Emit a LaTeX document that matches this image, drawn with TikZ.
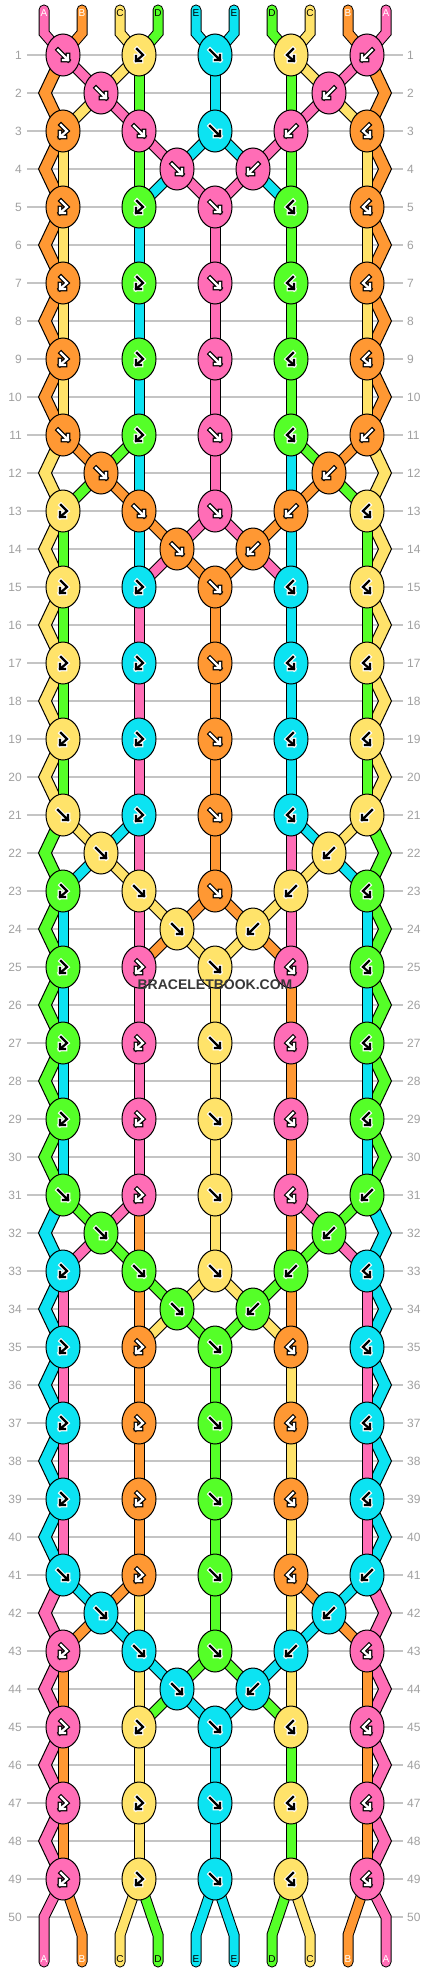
\documentclass[tikz,border=0pt]{standalone}
\usepackage{fontspec}
\setmainfont{Liberation Sans}
\usetikzlibrary{shapes.geometric}

\definecolor{cA}{HTML}{FF6DB6}
\definecolor{cB}{HTML}{FF9833}
\definecolor{cC}{HTML}{FFE36A}
\definecolor{cD}{HTML}{55FF28}
\definecolor{cE}{HTML}{0CE3F2}
\definecolor{gridgray}{HTML}{C4C4C4}
\definecolor{numgray}{HTML}{A0A0A0}
% 箭头的描边色和填充色
\colorlet{rimcA}{black}\colorlet{corecA}{white}
\colorlet{rimcB}{black}\colorlet{corecB}{white}
\colorlet{rimcC}{white}\colorlet{corecC}{black}
\colorlet{rimcD}{white}\colorlet{corecD}{black}
\colorlet{rimcE}{white}\colorlet{corecE}{black}

\pgfdeclarelayer{grid}
\pgfdeclarelayer{threads}
\pgfsetlayers{grid,threads,main}

\tikzset{
  knot/.style={ellipse, draw=black, line width=1pt, minimum width=34pt, minimum height=42pt, inner sep=0pt},
  rim/.style={draw=black, line width=11pt},
  core/.style={line width=9pt},
  arrowline/.style={line cap=rect, line join=miter},
  rowline/.style={draw=gridgray, line width=1.2pt},
  rownum/.style={text=numgray, font=\fontsize{12}{12}\selectfont, inner sep=0pt},
  endlabel/.style={font=\fontsize{10}{10}\selectfont, inner sep=0pt}
}

% 结上的箭头
\newcommand{\arf}{(-5,-5) -- (5,5) (5,0) -- (5,5) -- (0,5)}
\newcommand{\arb}{(5,-5) -- (-5,5) (-5,0) -- (-5,5) -- (0,5)}
\newcommand{\arfb}{(-2,-6) -- (4,0) -- (-3,6) (-3,1) -- (-3,6) -- (2,6)}
\newcommand{\arbf}{(2,-6) -- (-4,0) -- (3,6) (3,1) -- (3,6) -- (-2,6)}

% 名字, x, y, 颜色, 箭头
\newcommand{\knot}[5]{%
  \node[knot, fill=#4] (#1) at (#2,#3) {};
  \draw[arrowline, line width=4.6pt, draw=rim#4, shift={(#2,#3)}] #5;
  \draw[arrowline, line width=2.2pt, draw=core#4, shift={(#2,#3)}] #5;
}
% 线
\newcommand{\thread}[2]{%
  \draw[rim] #2;
  \draw[core, draw=#1] #2;
}
% 边上的折线
\newcommand{\zig}[4]{%
  \filldraw[fill=#1, draw=black, line width=1pt]
    ([xshift=-6.5pt]#2.center) -- ([xshift=-6.5pt]#3) -- ([xshift=-6.5pt]#4.center)
    -- ([xshift=6.5pt]#4.center) -- ([xshift=6.5pt]#3) -- ([xshift=6.5pt]#2.center) -- cycle;
}

\begin{document}
\begin{tikzpicture}[x=1pt, y=-1pt]
  \useasboundingbox (0,0) rectangle (430,1972);

  % 行号和横线
  \begin{pgfonlayer}{grid}
    \fill[white] (0,0) rectangle (430,1972);
    \foreach \rw in {1,...,50}{
      \pgfmathsetmacro{\yy}{17+38*\rw}
      \draw[rowline] (27,\yy) -- (403,\yy);
      \node[rownum, anchor=east] (numL\rw) at (22,\yy) {\rw};
      \node[rownum, anchor=west] (numR\rw) at (407,\yy) {\rw};
    }
  \end{pgfonlayer}

  % 结, 每十行一组
  \foreach \bk/\ca/\cb/\cc/\cd/\ce in {0/cA/cB/cC/cD/cE, 1/cB/cC/cD/cE/cA,
      2/cC/cD/cE/cA/cB, 3/cD/cE/cA/cB/cC, 4/cE/cA/cB/cC/cD}{
    \begin{scope}[shift={(0,380*\bk)}]
      \knot{k\bk-1-1}{63}{55}{\ca}{\arf}
      \knot{k\bk-1-2}{139}{55}{\cc}{\arfb}
      \knot{k\bk-1-3}{215}{55}{\ce}{\arf}
      \knot{k\bk-1-4}{291}{55}{\cc}{\arbf}
      \knot{k\bk-1-5}{367}{55}{\ca}{\arb}
      \knot{k\bk-2-1}{101}{93}{\ca}{\arf}
      \knot{k\bk-2-2}{329}{93}{\ca}{\arb}
      \knot{k\bk-3-1}{63}{131}{\cb}{\arfb}
      \knot{k\bk-3-2}{139}{131}{\ca}{\arf}
      \knot{k\bk-3-3}{215}{131}{\ce}{\arf}
      \knot{k\bk-3-4}{291}{131}{\ca}{\arb}
      \knot{k\bk-3-5}{367}{131}{\cb}{\arbf}
      \knot{k\bk-4-1}{177}{169}{\ca}{\arf}
      \knot{k\bk-4-2}{253}{169}{\ca}{\arb}
      \foreach \rw/\y in {5/207,7/283,9/359}{
        \knot{k\bk-\rw-1}{63}{\y}{\cb}{\arfb}
        \knot{k\bk-\rw-2}{139}{\y}{\cd}{\arfb}
        \knot{k\bk-\rw-3}{215}{\y}{\ca}{\arf}
        \knot{k\bk-\rw-4}{291}{\y}{\cd}{\arbf}
        \knot{k\bk-\rw-5}{367}{\y}{\cb}{\arbf}
      }
      \foreach \rw/\y in {2/93,4/169,6/245,8/321,10/397}{
        \coordinate (eL\bk-\rw) at (45,\y);
        \coordinate (eR\bk-\rw) at (385,\y);
      }
    \end{scope}
  }

  % 结之间的线
  \begin{pgfonlayer}{threads}
  \foreach \bk/\ca/\cb/\cc/\cd/\ce/\vl/\vr in {0/cA/cB/cC/cD/cE/cE/cD, 1/cB/cC/cD/cE/cA/cA/cE,
      2/cC/cD/cE/cA/cB/cA/cB, 3/cD/cE/cA/cB/cC/cB/cC, 4/cE/cA/cB/cC/cD/cC/cD}{
    \zig{\cb}{k\bk-1-1}{eL\bk-2}{k\bk-3-1}
    \zig{\cb}{k\bk-1-5}{eR\bk-2}{k\bk-3-5}
    \thread{\ca}{(k\bk-1-1.center) -- (k\bk-2-1.center)}
    \thread{\cc}{(k\bk-1-2.center) -- (k\bk-2-1.center)}
    \thread{\cd}{(k\bk-1-2.center) -- (k\bk-3-2.center)}
    \thread{\ce}{(k\bk-1-3.center) -- (k\bk-3-3.center)}
    \thread{\cd}{(k\bk-1-4.center) -- (k\bk-3-4.center)}
    \thread{\cc}{(k\bk-1-4.center) -- (k\bk-2-2.center)}
    \thread{\ca}{(k\bk-1-5.center) -- (k\bk-2-2.center)}
    \thread{\cc}{(k\bk-2-1.center) -- (k\bk-3-1.center)}
    \thread{\ca}{(k\bk-2-1.center) -- (k\bk-3-2.center)}
    \thread{\ca}{(k\bk-2-2.center) -- (k\bk-3-4.center)}
    \thread{\cc}{(k\bk-2-2.center) -- (k\bk-3-5.center)}
    \zig{\cb}{k\bk-3-1}{eL\bk-4}{k\bk-5-1}
    \zig{\cb}{k\bk-3-5}{eR\bk-4}{k\bk-5-5}
    \thread{\cc}{(k\bk-3-1.center) -- (k\bk-5-1.center)}
    \thread{\cd}{(k\bk-3-2.center) -- (k\bk-5-2.center)}
    \thread{\ca}{(k\bk-3-2.center) -- (k\bk-4-1.center)}
    \thread{\ce}{(k\bk-3-3.center) -- (k\bk-4-1.center)}
    \thread{\ce}{(k\bk-3-3.center) -- (k\bk-4-2.center)}
    \thread{\ca}{(k\bk-3-4.center) -- (k\bk-4-2.center)}
    \thread{\cd}{(k\bk-3-4.center) -- (k\bk-5-4.center)}
    \thread{\cc}{(k\bk-3-5.center) -- (k\bk-5-5.center)}
    \thread{\ce}{(k\bk-4-1.center) -- (k\bk-5-2.center)}
    \thread{\ca}{(k\bk-4-1.center) -- (k\bk-5-3.center)}
    \thread{\ca}{(k\bk-4-2.center) -- (k\bk-5-3.center)}
    \thread{\ce}{(k\bk-4-2.center) -- (k\bk-5-4.center)}
    \foreach \rs/\rt/\re in {5/7/6, 7/9/8}{
      \zig{\cb}{k\bk-\rs-1}{eL\bk-\re}{k\bk-\rt-1}
      \zig{\cb}{k\bk-\rs-5}{eR\bk-\re}{k\bk-\rt-5}
      \thread{\cc}{(k\bk-\rs-1.center) -- (k\bk-\rt-1.center)}
      \thread{\vl}{(k\bk-\rs-2.center) -- (k\bk-\rt-2.center)}
      \thread{\ca}{(k\bk-\rs-3.center) -- (k\bk-\rt-3.center)}
      \thread{\vr}{(k\bk-\rs-4.center) -- (k\bk-\rt-4.center)}
      \thread{\cc}{(k\bk-\rs-5.center) -- (k\bk-\rt-5.center)}
    }
    % 到下一组
    \ifnum\bk<4
      \pgfmathtruncatemacro{\nb}{\bk+1}
      \zig{\cb}{k\bk-9-1}{eL\bk-10}{k\nb-1-1}
      \zig{\cb}{k\bk-9-5}{eR\bk-10}{k\nb-1-5}
      \thread{\cc}{(k\bk-9-1.center) -- (k\nb-1-1.center)}
      \thread{\vl}{(k\bk-9-2.center) -- (k\nb-1-2.center)}
      \thread{\ca}{(k\bk-9-3.center) -- (k\nb-1-3.center)}
      \thread{\vr}{(k\bk-9-4.center) -- (k\nb-1-4.center)}
      \thread{\cc}{(k\bk-9-5.center) -- (k\nb-1-5.center)}
    \fi
  }

  % 上端和下端的线头
  \foreach \pos/\x/\yb/\col/\lab/\tc/\kt/\kb in {1/44/1917/cA/A/white/k0-1-1/k4-9-1,
      2/82/1935/cB/B/white/k0-1-1/k4-9-1, 3/120/1935/cC/C/black/k0-1-2/k4-9-2,
      4/158/1935/cD/D/black/k0-1-2/k4-9-2, 5/196/1935/cE/E/black/k0-1-3/k4-9-3,
      6/234/1935/cE/E/black/k0-1-3/k4-9-3, 7/272/1935/cD/D/black/k0-1-4/k4-9-4,
      8/310/1935/cC/C/black/k0-1-4/k4-9-4, 9/348/1935/cB/B/white/k0-1-5/k4-9-5,
      10/386/1917/cA/A/white/k0-1-5/k4-9-5}{
    \coordinate (top\pos) at (\x,10);
    \coordinate (topbend\pos) at (\x,33);
    \coordinate (bot\pos) at (\x,1962);
    \coordinate (botbend\pos) at (\x,\yb);
    \draw[rim, line cap=round] (top\pos) -- (topbend\pos) -- (\kt.center);
    \draw[core, draw=\col, line cap=round] (top\pos) -- (topbend\pos) -- (\kt.center);
    \draw[rim, line cap=round] (bot\pos) -- (botbend\pos) -- (\kb.center);
    \draw[core, draw=\col, line cap=round] (bot\pos) -- (botbend\pos) -- (\kb.center);
    \node[endlabel, text=\tc] (toplab\pos) at (\x,13) {\lab};
    \node[endlabel, text=\tc] (botlab\pos) at (\x,1959) {\lab};
  }
  \end{pgfonlayer}

  % 水印
  \node[font=\bfseries\fontsize{14}{14}\selectfont, text=black!78] (mark) at (215,985) {BRACELETBOOK.COM};
\end{tikzpicture}
\end{document}
